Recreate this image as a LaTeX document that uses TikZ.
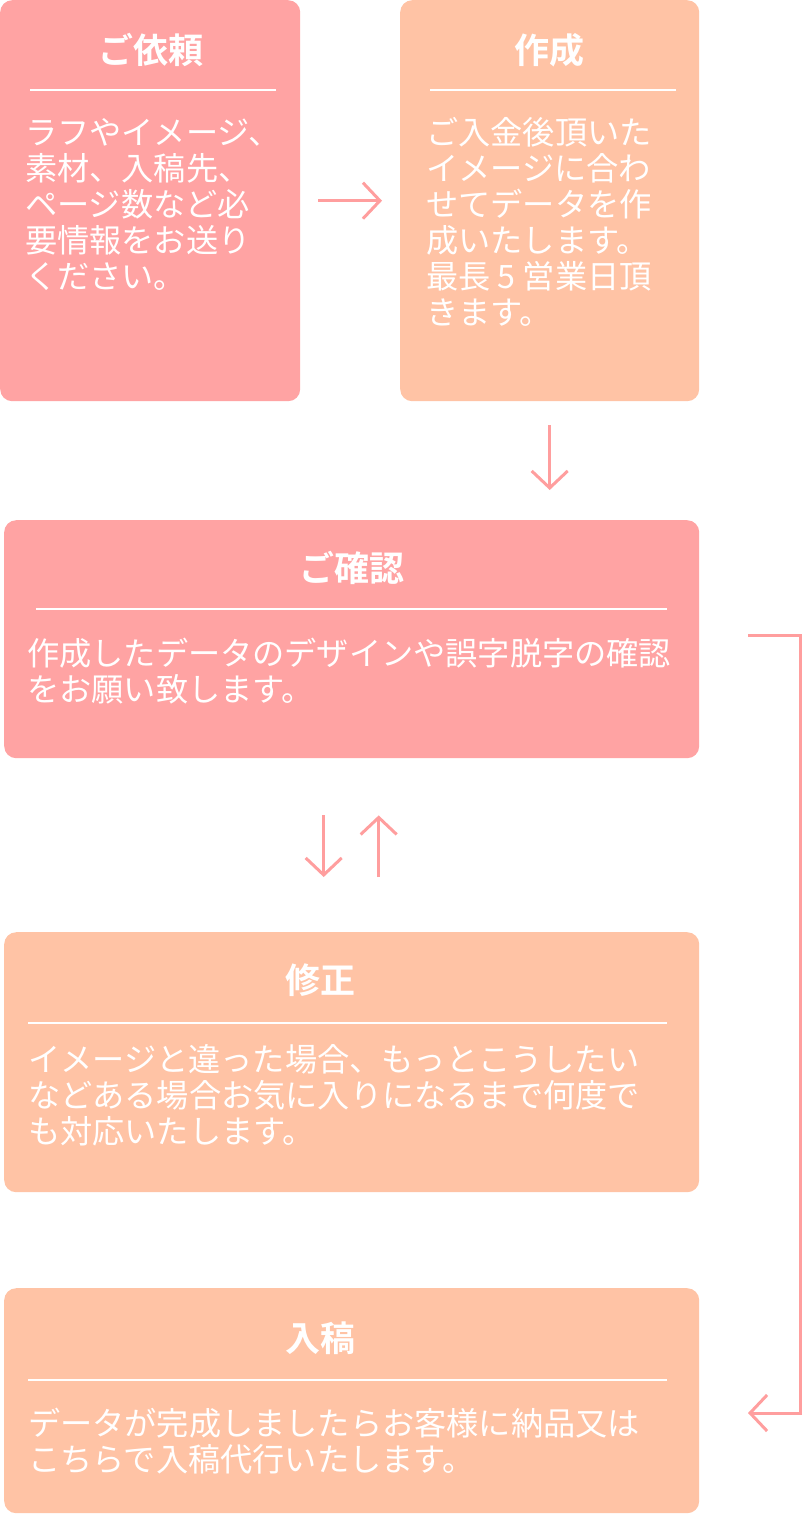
\documentclass[tikz,border=0pt]{standalone}
\usepackage{fontspec}
\setmainfont{Noto Sans CJK JP}[BoldFont={Noto Sans CJK JP Bold}]
\usetikzlibrary{positioning,arrows.meta}
\definecolor{mypink}{RGB}{255,163,163}
\definecolor{mypeach}{RGB}{255,195,165}
\definecolor{myarrow}{RGB}{255,158,158}

\begin{document}
\begin{tikzpicture}[x=1pt,y=-1pt,
        box/.style={anchor=north west, inner sep=0pt, rounded corners=12pt},
        ttl/.style={text=white, font=\fontsize{35}{36}\selectfont\bfseries},
        body/.style={anchor=north west, inner sep=0pt, text=white, align=left, font=\fontsize{32.2}{36}\selectfont},
        rule/.style={draw=white, line width=1.4pt},
        arr/.style={draw=myarrow, line width=3pt, -{Straight Barb[length=17pt,width=36pt]}}]

        \path[use as bounding box] (0,0) rectangle (802,1516);

        \node[box, fill=mypink, minimum width=300pt, minimum height=401pt] (irai) at (0,0) {};
        \node[box, fill=mypeach, minimum width=299pt, minimum height=401pt] (sakusei) at (400,0) {};
        \node[box, fill=mypink, minimum width=695pt, minimum height=238pt] (kakunin) at (4,520) {};
        \node[box, fill=mypeach, minimum width=695pt, minimum height=260pt] (shusei) at (4,932) {};
        \node[box, fill=mypeach, minimum width=695pt, minimum height=225pt] (nyuko) at (4,1288) {};

        \node[ttl] (irai-t) at (151,50) {ご依頼};
        \node[ttl] (sakusei-t) at (549,50) {作成};
        \node[ttl] (kakunin-t) at (352,568) {ご確認};
        \node[ttl] (shusei-t) at (320,980) {修正};
        \node[ttl] (nyuko-t) at (320,1338) {入稿};

        \draw[rule] (30,90) -- (276,90);
        \draw[rule] (430,90) -- (676,90);
        \draw[rule] (36,609) -- (667,609);
        \draw[rule] (28,1023) -- (667,1023);
        \draw[rule] (28,1380) -- (667,1380);

        \node[body] (irai-b) at (25,118) {ラフやイメージ、\\素材、入稿先、\\ページ数など必\\要情報をお送り\\ください。};
        \node[body] (sakusei-b) at (426,117) {ご入金後頂いた\\イメージに合わ\\せてデータを作\\成いたします。\\最長 5 営業日頂\\きます。};
        \node[body] (kakunin-b) at (27,638) {作成したデータのデザインや誤字脱字の確認\\をお願い致します。};
        \node[body] (shusei-b) at (28,1044) {イメージと違った場合、もっとこうしたい\\などある場合お気に入りになるまで何度で\\も対応いたします。};
        \node[body] (nyuko-b) at (28,1408) {データが完成しましたらお客様に納品又は\\こちらで入稿代行いたします。};

        \coordinate (b1) at (748,635);
        \coordinate (b2) at (748,1413);

        \draw[arr, shorten <=18pt, shorten >=18pt] (irai) -- (sakusei);
        \draw[arr, shorten <=24pt, shorten >=30pt] (sakusei.south) -- (sakusei.south |- kakunin.north);
        \draw[arr, shorten <=57pt, shorten >=55pt] ([xshift=-28pt]kakunin.south) -- ([xshift=-28pt]shusei.north);
        \draw[arr, shorten <=55pt, shorten >=57pt] ([xshift=27pt]shusei.north) -- ([xshift=27pt]kakunin.south);
        \draw[arr] (b1) -- ++(52,0) |- (b2);
\end{tikzpicture}
\end{document}
